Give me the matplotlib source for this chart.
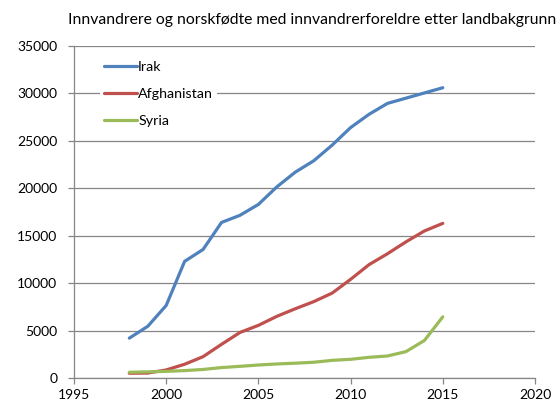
import matplotlib
matplotlib.use("Agg")
import matplotlib.pyplot as plt

# Data (persons per year)
years = list(range(1998, 2016))
irak = [4200, 5450, 7650, 12300, 13550, 16400, 17150, 18300, 20150, 21700,
        22900, 24550, 26400, 27800, 28950, 29500, 30050, 30600]
afghanistan = [500, 520, 850, 1450, 2250, 3550, 4800, 5550, 6500, 7300,
               8050, 8950, 10400, 11950, 13100, 14350, 15500, 16300]
syria = [600, 650, 700, 780, 900, 1100, 1230, 1370, 1480, 1560,
         1660, 1860, 1970, 2180, 2320, 2780, 3950, 6450]

series = [("Irak", irak, "#4F81BD"),
          ("Afghanistan", afghanistan, "#C0504D"),
          ("Syria", syria, "#9BBB59")]

x_ticks = [1995, 2000, 2005, 2010, 2015, 2020]
y_ticks = list(range(0, 35001, 5000))

plt.rcParams['font.family'] = ['Lato', 'DejaVu Sans']
gray = "#868686"

fig = plt.figure(figsize=(5.6, 4.2), dpi=100)
ax = fig.add_axes([74 / 560, 1 - 378 / 420, (535 - 74) / 560, (378 - 46) / 420])

for name, values, color in series:
    ax.plot(years, values, color=color, linewidth=2.3, label=name,
            solid_capstyle='round', solid_joinstyle='round')

ax.set_xlim(1995, 2020)
ax.set_ylim(0, 35000)
ax.set_xticks(x_ticks)
ax.set_yticks(y_ticks)
ax.yaxis.grid(True, color=gray, linewidth=0.9)
ax.set_axisbelow(True)

for side in ("top", "right"):
    ax.spines[side].set_visible(False)
for side in ("left", "bottom"):
    ax.spines[side].set_color(gray)
    ax.spines[side].set_linewidth(0.9)

ax.tick_params(axis='both', colors=gray, length=4, width=0.9,
               labelcolor='black', labelsize=10)
ax.tick_params(axis='y', pad=8)
ax.tick_params(axis='x', pad=4)

leg = ax.legend(loc='upper left', bbox_to_anchor=(0.04, 0.99), frameon=True,
                fontsize=10.3, handlelength=2.3, handletextpad=0.1,
                labelspacing=1.05, borderpad=0.3, fancybox=False)
leg.get_frame().set_facecolor('white')
leg.get_frame().set_edgecolor('none')
leg.get_frame().set_alpha(1)

fig.text(312 / 560, 1 - 20 / 420,
         "Innvandrere og norskfødte med innvandrerforeldre etter landbakgrunn",
         ha='center', va='center', fontsize=11.3)

fig.savefig("out.png", dpi=100)
